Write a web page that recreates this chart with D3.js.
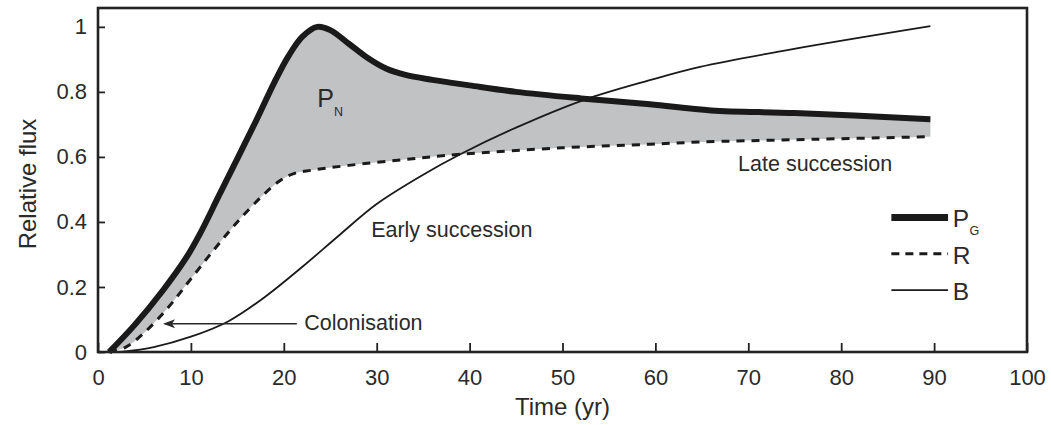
<!DOCTYPE html>
<html lang="en">
    <head>
        <meta charset="UTF-8" />
        <title>index</title>
        <script src="https://d3js.org/d3.v7.min.js"></script>
        <style>
            body {
                margin: 0;
                background-color: white;
            }
            text {
                font-family: "Liberation Sans", Arial, sans-serif;
                fill: #2a2a2a;
            }
        </style>
    </head>
    <body>
        <div id="my_dataviz"></div>
    </body>
<script>
// data: [time (yr), relative flux]
var pgData = [[1.2,0],[4,0.085],[7,0.19],[9.5,0.29],[11,0.365],[13,0.48],[15,0.595],
    [17,0.71],[19,0.83],[20.5,0.91],[22,0.97],[23.6,1.0],[25,0.99],[27,0.948],
    [29,0.905],[31,0.872],[33,0.853],[36,0.837],[40,0.82],[45,0.8],[52,0.78],[59.4,0.762],
    [66,0.743],[75,0.735],[89.6,0.716]];
var rData = [[1.2,0],[3,0.015],[5,0.06],[7.5,0.135],[10,0.225],[12.5,0.315],[15,0.4],
    [17.5,0.475],[19.5,0.525],[21,0.548],[23,0.559],[27,0.574],[33,0.592],[39,0.608],
    [50,0.628],[59.4,0.639],[65,0.646],[75,0.653],[89.6,0.662]];
var bData = [[2.5,0],[6,0.015],[10,0.047],[14,0.094],[18,0.17],[22,0.262],[26,0.36],
    [30,0.455],[35,0.545],[39,0.608],[45,0.69],[52.2,0.774],[59.4,0.836],[64.8,0.877],
    [74.5,0.93],[89.6,1.002]];

var xTicks = [0,10,20,30,40,50,60,70,80,90,100];
var yTicks = [0,0.2,0.4,0.6,0.8,1];

var legendNames = ["P", "R", "B"];

// set the dimensions and margins of the graph
var margin = {top: 8, right: 24, bottom: 73, left: 98},
    width = 1051 - margin.left - margin.right,
    height = 425 - margin.top - margin.bottom;

var svg = d3.select("#my_dataviz")
  .append("svg")
    .attr("width", 1051)
    .attr("height", 425)
  .append("g")
    .attr("transform", "translate(" + margin.left + "," + margin.top + ")");

var x = d3.scaleLinear().domain([0, 100]).range([0, width]);
var y = d3.scaleLinear().domain([0, 1.058]).range([height, 0]);

var line = d3.line()
    .x(function(d) { return x(d[0]); })
    .y(function(d) { return y(d[1]); })
    .curve(d3.curveCatmullRom.alpha(0.5));

// grey P_N area between gross production and respiration
var topPath = line(pgData);
var botPath = line(rData.slice().reverse());
svg.append("path")
    .attr("d", topPath + "L" + botPath.slice(1) + "Z")
    .attr("fill", "#c1c2c4")
    .attr("stroke", "none");

// B
svg.append("path")
    .attr("d", line(bData))
    .attr("fill", "none")
    .attr("stroke", "#1a1a1a")
    .attr("stroke-width", 1.8);

// R
svg.append("path")
    .attr("d", line(rData))
    .attr("fill", "none")
    .attr("stroke", "#1a1a1a")
    .attr("stroke-width", 3)
    .attr("stroke-dasharray", "8,7");

// P_G
svg.append("path")
    .attr("d", line(pgData))
    .attr("fill", "none")
    .attr("stroke", "#1a1a1a")
    .attr("stroke-width", 6)
    .attr("stroke-linejoin", "round");

// axes, ticks inside
var xAxis = svg.append("g")
    .attr("transform", "translate(0," + height + ")")
    .call(d3.axisBottom(x).tickValues(xTicks).tickSizeInner(-9).tickSizeOuter(0).tickPadding(17));
var yAxis = svg.append("g")
    .call(d3.axisLeft(y).tickValues(yTicks).tickSizeInner(-7).tickSizeOuter(0).tickPadding(11)
        .tickFormat(function(d) { return d; }));

[xAxis, yAxis].forEach(function(a) {
    a.select(".domain").remove();
    a.selectAll("line").attr("stroke", "#222").attr("stroke-width", 1.8);
    a.selectAll("text").attr("font-size", 22).attr("fill", "#2a2a2a")
        .style("font-family", "'Liberation Sans', Arial, sans-serif");
});

// frame
svg.append("rect")
    .attr("x", 0).attr("y", 0)
    .attr("width", width).attr("height", height)
    .attr("fill", "none")
    .attr("stroke", "#222")
    .attr("stroke-width", 2.6);

// axis titles
svg.append("text")
    .attr("x", x(50))
    .attr("y", 415 - margin.top)
    .attr("text-anchor", "middle")
    .attr("font-size", 24)
    .text("Time (yr)");
svg.append("text")
    .attr("transform", "translate(" + (36 - margin.left) + "," + (184 - margin.top) + ") rotate(-90)")
    .attr("text-anchor", "middle")
    .attr("font-size", 24)
    .text("Relative flux");

// annotations
function label(t, v, txt, size) {
    return svg.append("text")
        .attr("x", x(t))
        .attr("y", y(v))
        .attr("font-size", size)
        .text(txt);
}
label(23.6, 0.755, "P", 25);
label(25.4, 0.727, "N", 12.5);
label(29.4, 0.354, "Early succession", 21.5);
label(22.2, 0.067, "Colonisation", 21.5);
label(68.9, 0.557, "Late succession", 21.5);

// colonisation arrow
var arrowY = y(0.087);
svg.append("line")
    .attr("x1", x(21.4)).attr("x2", x(7.2))
    .attr("y1", arrowY).attr("y2", arrowY)
    .attr("stroke", "#2a2a2a")
    .attr("stroke-width", 1.5);
svg.append("path")
    .attr("d", "M" + x(7.0) + "," + arrowY + "l12,-4.5l-3,4.5l3,4.5z")
    .attr("fill", "#2a2a2a");

// legend
var legendY = [0.414, 0.302, 0.19];
var legend = svg.append("g");
legend.selectAll("line")
    .data(legendNames)
    .enter()
    .append("line")
    .attr("x1", x(85.4)).attr("x2", x(91.5))
    .attr("y1", function(d, i) { return y(legendY[i]); })
    .attr("y2", function(d, i) { return y(legendY[i]); })
    .attr("stroke", "#1a1a1a")
    .attr("stroke-width", function(d, i) { return [7, 3, 1.8][i]; })
    .attr("stroke-dasharray", function(d, i) { return i == 1 ? "8,6" : null; });
legend.selectAll("text")
    .data(legendNames)
    .enter()
    .append("text")
    .attr("x", x(92))
    .attr("y", function(d, i) { return y(legendY[i]) + 10; })
    .attr("font-size", 24.5)
    .text(function(d) { return d; });
legend.append("text")
    .attr("x", x(93.8))
    .attr("y", y(legendY[0]) + 18)
    .attr("font-size", 12.5)
    .text("G");
</script>
</html>
